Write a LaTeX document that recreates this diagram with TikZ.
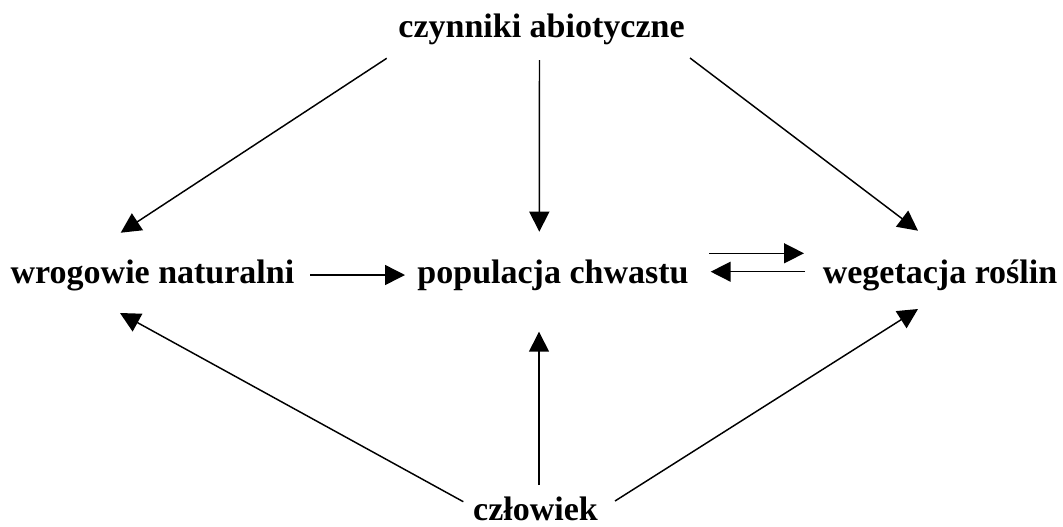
\documentclass[tikz,border=0pt]{standalone}
\usepackage{fontspec}
\setmainfont{Liberation Serif}
\usetikzlibrary{positioning, arrows.meta, calc}

\begin{document}
\begin{tikzpicture}[x=0.75pt, y=-0.75pt,
		wezel/.style={inner sep=0pt, anchor=base, font=\fontsize{25.5}{30}\selectfont\bfseries},
		strzalka/.style={line width=1.1pt, -{Triangle[length=15pt, width=15pt]}}]
		
		%Frame of the picture
		\useasboundingbox (0,0) rectangle (1063,526);
		
		%Nodes
		\node (czynnikiAbiotyczne) at (541.5,37) [wezel]{czynniki abiotyczne};
		\node (wrogowieNaturalni) at (152.5,283) [wezel]{wrogowie naturalni};
		\node (populacjaChwastu) at (553,283) [wezel]{populacja chwastu};
		\node (wegetacjaRoslin) at (940,283) [wezel]{wegetacja roślin};
		\node (czlowiek) at (535.5,520) [wezel]{człowiek};
		
		%Arrows from the abiotic factors
		\draw[strzalka] ($(czynnikiAbiotyczne.base)+(-154.8,21.3)$) -- ($(wrogowieNaturalni.base)+(-31.8,-50.3)$);
		\draw[strzalka] ($(czynnikiAbiotyczne.base)+(-2,23)$) -- ($(populacjaChwastu.base)+(-13.7,-51.3)$);
		\draw[strzalka] ($(czynnikiAbiotyczne.base)+(148.5,21)$) -- ($(wegetacjaRoslin.base)+(-22,-52.3)$);
		
		%Middle row
		\draw[strzalka] ($(wrogowieNaturalni.base)+(157.5,-8)$) -- ($(populacjaChwastu.base)+(-148,-8)$);
		\draw[strzalka] ($(populacjaChwastu.base)+(156,-29.7)$) -- ($(wegetacjaRoslin.base)+(-136,-29.7)$);
		\draw[strzalka] ($(wegetacjaRoslin.base)+(-135,-11.3)$) -- ($(populacjaChwastu.base)+(157.7,-11.3)$);
		
		%Arrows from man
		\draw[strzalka] ($(czlowiek.base)+(-72.2,-18.3)$) -- ($(wrogowieNaturalni.base)+(-32.5,30)$);
		\draw[strzalka] ($(czlowiek.base)+(3.5,-35)$) -- ($(populacjaChwastu.base)+(-14,48.7)$);
		\draw[strzalka] ($(czlowiek.base)+(79.5,-19)$) -- ($(wegetacjaRoslin.base)+(-22,26)$);
		
\end{tikzpicture}
\end{document}
